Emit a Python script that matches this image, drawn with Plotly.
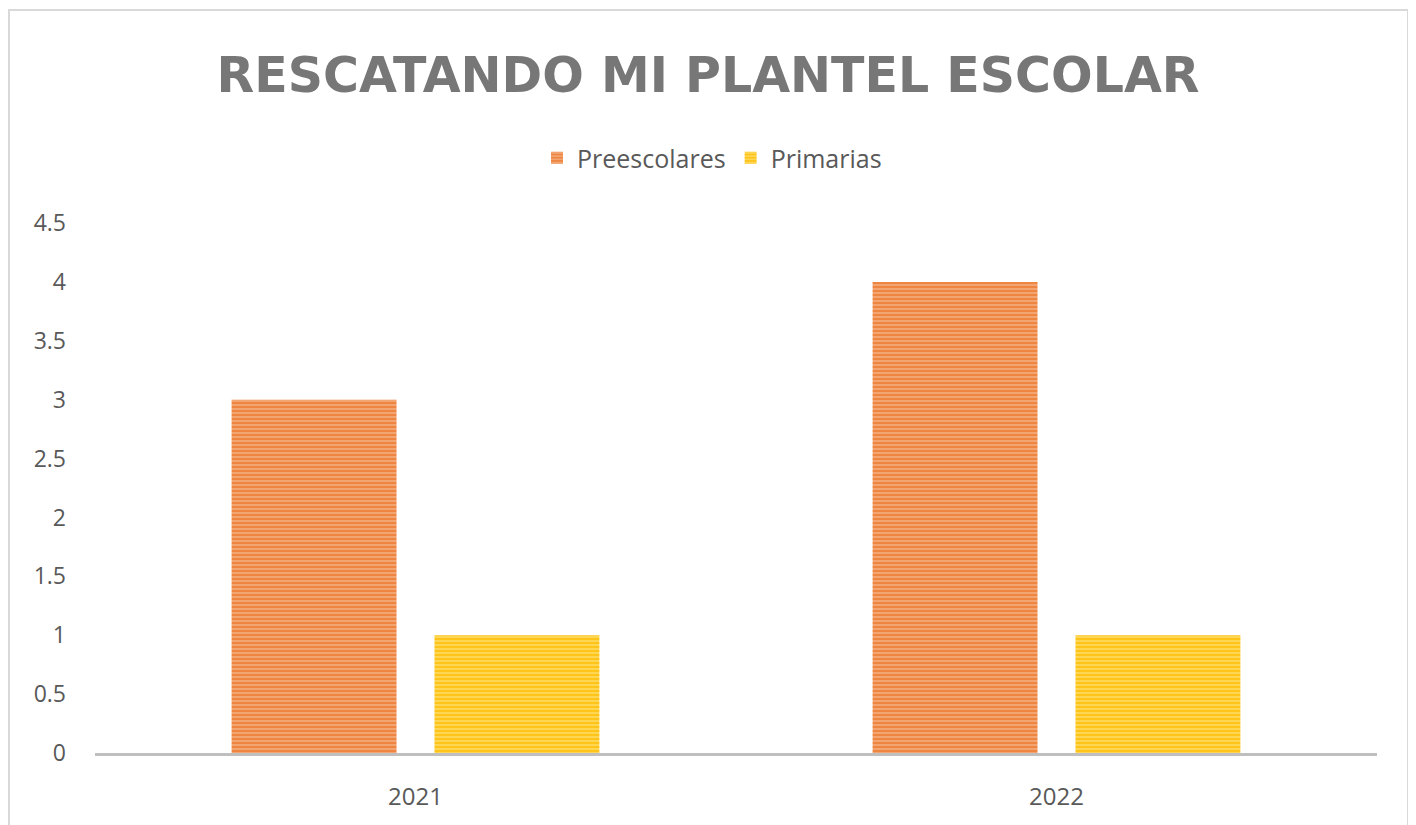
import plotly.graph_objects as go

categories = ["2021", "2022"]
preescolares = [3, 4]
primarias = [1, 1]
series_names = ["Preescolares", "Primarias"]
title_text = "RESCATANDO MI PLANTEL ESCOLAR"
tick_vals = [0, 0.5, 1, 1.5, 2, 2.5, 3, 3.5, 4, 4.5]
tick_text = ["0", "0.5", "1", "1.5", "2", "2.5", "3", "3.5", "4", "4.5"]

FONT = "Open Sans"
W, H = 1408, 817          # page adds an 8px body margin
L, R, T, B = 87, 39, 215, 72
PW, PH = W - L - R, H - T - B

fig = go.Figure()
fig.add_trace(go.Bar(
    x=categories, y=preescolares, name=series_names[0],
    marker=dict(color="#ED7D31", line=dict(width=0),
                pattern=dict(shape="-", bgcolor="#EE8540", fgcolor="#F8CBAD",
                             size=4, solidity=0.45, fillmode="overlay")),
))
fig.add_trace(go.Bar(
    x=categories, y=primarias, name=series_names[1],
    marker=dict(color="#FFC000", line=dict(width=0),
                pattern=dict(shape="-", bgcolor="#FFC41A", fgcolor="#FFEB9C",
                             size=4, solidity=0.45, fillmode="overlay")),
))

fig.update_layout(
    width=W, height=H,
    margin=dict(l=L, r=R, t=T, b=B, autoexpand=False),
    paper_bgcolor="white", plot_bgcolor="white",
    bargap=0.367, bargroupgap=0.187,
    title=dict(text="<b>" + title_text + "</b>", x=700 / W, xref="container", xanchor="center",
               y=1 - 67 / H, yref="container", yanchor="middle",
               font=dict(family="DejaVu Sans", size=49, color="#777777")),
    legend=dict(orientation="h", x=(704 - L) / PW, xanchor="center", xref="paper",
                y=1 + (T - 150) / PH, yanchor="middle", yref="paper",
                font=dict(family=FONT, size=25, color="#595959"),
                itemwidth=30, traceorder="normal"),
    font=dict(family=FONT, color="#595959"),
    xaxis=dict(showgrid=False, showline=True, linecolor="#BFBFBF", linewidth=3,
               ticks="", tickfont=dict(size=24, color="#595959"), ticklabelstandoff=20),
    yaxis=dict(range=[0, 4.5], tickvals=tick_vals, ticktext=tick_text,
               showgrid=False, zeroline=False, showline=False, ticks="",
               tickfont=dict(size=23, color="#595959"), ticklabelstandoff=28),
    shapes=[dict(type="rect", xref="paper", yref="paper",
                 x0=(1 - L) / PW, x1=(1400 - L) / PW,
                 y0=-(B + 20) / PH, y1=(PH + T - 2) / PH,
                 line=dict(color="#D9D9D9", width=2), fillcolor="rgba(0,0,0,0)",
                 layer="below")],
)

fig.write_html("out.html")
